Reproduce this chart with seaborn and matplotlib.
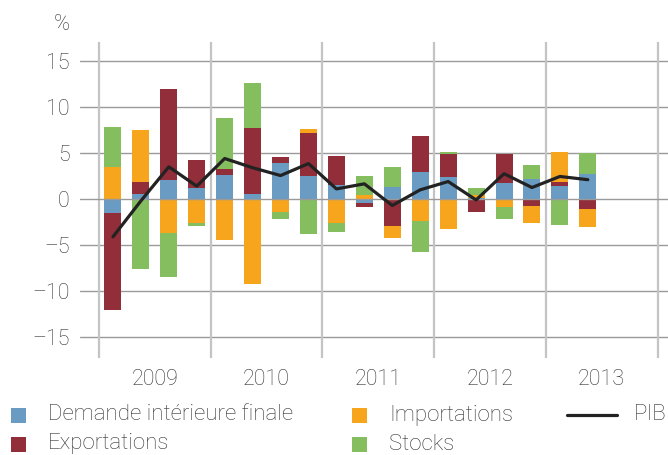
import matplotlib
matplotlib.use("Agg")
import matplotlib.pyplot as plt
import seaborn as sns
from matplotlib.lines import Line2D
from matplotlib.patches import Rectangle

# Contributions to GDP growth, quarter on quarter, annualised (in %)
quarters = ["2009T1", "2009T2", "2009T3", "2009T4",
            "2010T1", "2010T2", "2010T3", "2010T4",
            "2011T1", "2011T2", "2011T3", "2011T4",
            "2012T1", "2012T2", "2012T3", "2012T4",
            "2013T1", "2013T2"]
demande = [-1.5, 0.6, 2.1, 1.2, 2.6, 0.5, 3.9, 2.5, 1.5, -0.4, 1.3, 2.9,
           2.4, 0.1, 1.7, 2.2, 1.45, 2.75]
exportations = [-10.5, 1.2, 9.9, 3.0, 0.65, 7.2, 0.65, 4.7, 3.2, -0.5, -2.9, 3.9,
                2.5, -1.4, 3.15, -0.8, 0.45, -1.05]
importations = [3.45, 5.65, -3.7, -2.6, -4.5, -9.2, -1.4, 0.35, -2.65, 0.45, -1.3, -2.35,
                -3.2, 0.35, -0.9, -1.75, 3.2, -1.95]
stocks = [4.4, -7.6, -4.8, -0.3, 5.5, 4.9, -0.75, -3.75, -0.9, 2.05, 2.15, -3.45,
          0.2, 0.75, -1.25, 1.5, -2.8, 2.25]
pib = [-4.1, -0.2, 3.5, 1.4, 4.4, 3.4, 2.55, 3.85, 1.1, 1.65, -0.7, 1.0,
       1.9, -0.1, 2.75, 1.25, 2.45, 2.1]
years = ["2009", "2010", "2011", "2012", "2013"]

series = [
    ("Demande intérieure finale", demande, "#6a9bc3"),
    ("Exportations", exportations, "#922d3a"),
    ("Importations", importations, "#f6a51d"),
    ("Stocks", stocks, "#84be5f"),
]

W, H = 668, 455
TXT = "#333333"
FS = 15.5
FS_LEG = 16
sns.set_style("white")
plt.rcParams["font.family"] = ["Roboto", "DejaVu Sans"]
plt.rcParams["font.weight"] = "light"

fig = plt.figure(figsize=(W / 100, H / 100), dpi=100)
ax = fig.add_axes([80 / W, 1 - 358 / H, 588 / W, 316 / H])

pos = list(range(len(quarters)))

# stack positive and negative contributions separately
pos_base = [0.0] * len(pos)
neg_base = [0.0] * len(pos)
for name, vals, col in series:
    bottoms = []
    for i, v in enumerate(vals):
        if v >= 0:
            bottoms.append(pos_base[i])
            pos_base[i] += v
        else:
            bottoms.append(neg_base[i])
            neg_base[i] += v
    sns.barplot(x=pos, y=vals, bottom=bottoms, native_scale=True, color=col,
                saturation=1, width=0.61, linewidth=0, ax=ax, zorder=2)

sns.lineplot(x=pos, y=pib, color="#222222", linewidth=2.3, ax=ax, zorder=4)

# grid and year separators
for v in range(-15, 20, 5):
    ax.axhline(v, color="#9a9a9a", linewidth=1.0, zorder=3 if v == 0 else 1)
for b in range(0, 6):
    ax.axvline(4 * b - 0.5, color="#c4c4c4", linewidth=1.6, zorder=1)

ax.set_xlim(-1.18, 19.87)
ax.set_ylim(-17.26, 17.05)
ax.set_yticks(range(-15, 20, 5))
ax.set_yticklabels([str(v).replace("-", "\u2013") for v in range(-15, 20, 5)])
ax.set_xticks([4 * i + 1.5 for i in range(len(years))])
ax.set_xticklabels(years)
ax.tick_params(axis="both", length=0, labelsize=FS, labelcolor=TXT)
ax.tick_params(axis="y", pad=7.5)
ax.tick_params(axis="x", pad=8)
ax.set_xlabel("")
ax.set_ylabel("")
ax.grid(False)
for s in ax.spines.values():
    s.set_visible(False)

fig.text(62 / W, 1 - 25 / H, "%", ha="center", va="center", fontsize=FS, color=TXT)

# legend drawn by hand to match the two-row layout
def fx(px):
    return px / W

def fy(py):
    return 1 - py / H

rows = [415, 444]
sq = 15
legend_spots = [(11, rows[0]), (11, rows[1]), (352, rows[0]), (352, rows[1])]
for (name, vals, col), (x0, yc) in zip(series, legend_spots):
    fig.add_artist(Rectangle((fx(x0), fy(yc + sq / 2)), sq / W, sq / H,
                             transform=fig.transFigure, color=col, linewidth=0))
    fig.text(fx(x0 + 37), fy(yc), name, ha="left", va="center",
             fontsize=FS_LEG, color=TXT)
fig.add_artist(Line2D([fx(567), fx(617)], [fy(rows[0]), fy(rows[0])],
                      transform=fig.transFigure, color="#222222", linewidth=2.3))
fig.text(fx(666), fy(rows[0]), "PIB", ha="right", va="center", fontsize=FS_LEG, color=TXT)

fig.savefig("out.png", dpi=100)
